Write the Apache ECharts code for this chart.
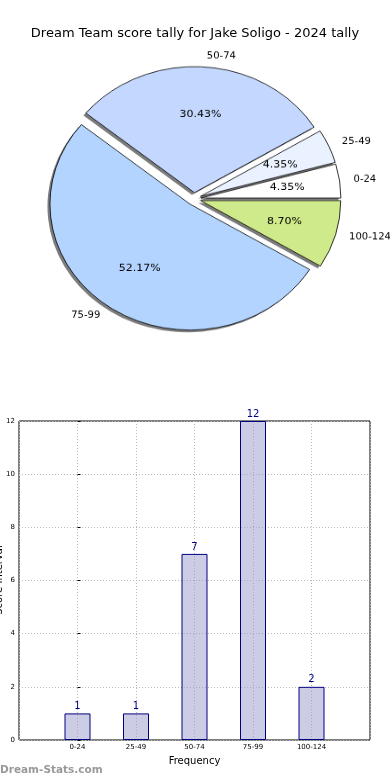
<!DOCTYPE html>
<html>
<head>
<meta charset="utf-8">
<script src="https://cdn.jsdelivr.net/npm/echarts@6/dist/echarts.min.js"></script>
<style>
html,body{margin:0;padding:0;background:#fff;}
#main{position:absolute;left:0;top:0;width:390px;height:780px;}
#pie{position:absolute;left:0;top:0;width:390px;height:420px;transform:scaleY(0.9);transform-origin:0 0;}
</style>
</head>
<body>
<div id="main"></div>
<div id="pie"></div>
<script>
const titleText = 'Dream Team score tally for Jake Soligo - 2024 tally';
const categories = ['0-24', '25-49', '50-74', '75-99', '100-124'];
const counts = [1, 1, 7, 12, 2];
const pieColors = ['#ffffff', '#eaf2ff', '#c4d8ff', '#b3d4ff', '#cfea8a'];
const yTicks = [0, 2, 4, 6, 8, 10, 12];
const xAxisName = 'Frequency';
const yAxisName = 'Score Interval';
const watermark = 'Dream-Stats.com';

const FONT = 'DejaVu Sans';
const total = counts.reduce((a, b) => a + b, 0);

// ---------- main chart: title + bar ----------
const main = echarts.init(document.getElementById('main'), null, {renderer: 'canvas'});
main.setOption({
  animation: false,
  backgroundColor: '#fff',
  title: {
    text: titleText, left: 'center', top: 22,
    textStyle: {fontFamily: FONT, fontSize: 13, fontWeight: 'normal', color: '#000'}
  },
  graphic: [{
    type: 'text', left: 0, top: 765,
    style: {text: watermark, fontFamily: FONT, fontSize: 10.5, fontWeight: 'bold', fill: '#999999'}
  }, {
    type: 'text', x: -1, y: 580, rotation: Math.PI / 2,
    style: {text: yAxisName, fontFamily: FONT, fontSize: 10, fill: '#000', align: 'center', verticalAlign: 'middle'}
  }],
  grid: {left: 19, top: 421, width: 351, height: 319, show: true, borderColor: '#000', borderWidth: 1,
         backgroundColor: 'transparent', outerBoundsMode: 'none', containLabel: false},
  xAxis: {
    type: 'value', min: -1, max: categories.length, interval: 1,
    name: xAxisName, nameLocation: 'middle', nameGap: 16,
    nameTextStyle: {fontFamily: FONT, fontSize: 10, color: '#000'},
    axisLine: {show: false},
    axisTick: {show: false},
    axisLabel: {
      fontFamily: FONT, fontSize: 7, color: '#000', margin: 4,
      formatter: v => (categories[v] !== undefined ? categories[v] : '')
    },
    splitLine: {show: true, lineStyle: {color: '#b8b8b8', type: [1, 2], width: 1}}
  },
  yAxis: {
    type: 'value', min: yTicks[0], max: yTicks[yTicks.length - 1], interval: yTicks[1] - yTicks[0],
    axisLine: {show: false},
    axisTick: {show: true, inside: true, length: 3, lineStyle: {color: '#000'}},
    axisLabel: {fontFamily: FONT, fontSize: 7, color: '#000', margin: 4},
    splitLine: {show: true, lineStyle: {color: '#b8b8b8', type: [1, 2], width: 1}}
  },
  series: [{
    type: 'bar',
    data: counts.map((v, i) => [i, v]),
    barWidth: 26,
    itemStyle: {color: 'rgba(153,153,204,0.5)', borderColor: '#000080', borderWidth: 1},
    label: {show: true, position: 'top', distance: 2, fontFamily: FONT, fontSize: 10, color: '#000080'}
  }]
});

// ---------- pie chart (scaled vertically to match elliptical pie) ----------
const pie = echarts.init(document.getElementById('pie'), null, {renderer: 'canvas'});
const R = 140;
const center = [194, 221];
const common = {
  type: 'pie', center: center, startAngle: 0, clockwise: false,
  selectedMode: 'multiple', selectedOffset: 7, avoidLabelOverlap: false,
  silent: true, emphasis: {disabled: true}
};
pie.setOption({
  animation: false,
  series: [
    // filled wedges with drop shadow
    Object.assign({}, common, {
      radius: [0, R],
      data: categories.map((c, i) => ({name: c, value: counts[i], selected: true, itemStyle: {color: pieColors[i]}})),
      itemStyle: {borderWidth: 0, shadowColor: 'rgba(80,80,80,0.75)', shadowBlur: 0, shadowOffsetX: -2.5, shadowOffsetY: 2.5},
      label: {show: false}, labelLine: {show: false}
    }),
    // outlines + category labels
    Object.assign({}, common, {
      radius: [0, R],
      data: categories.map((c, i) => ({name: c, value: counts[i], selected: true})),
      itemStyle: {color: 'rgba(0,0,0,0)', borderColor: '#000', borderWidth: 0.8},
      label: {show: true, position: 'outside', fontFamily: FONT, fontSize: 10, color: '#000', distanceToLabelLine: 2},
      labelLine: {show: false, length: 12, length2: 0}
    }),
    // percentage labels at 0.6 R
    Object.assign({}, common, {
      radius: [0, R * 1.2],
      data: categories.map((c, i) => ({name: c, value: counts[i], selected: true})),
      itemStyle: {color: 'rgba(0,0,0,0)', borderWidth: 0},
      label: {
        show: true, position: 'inside', fontFamily: FONT, fontSize: 11, color: '#000',
        formatter: p => (p.value / total * 100).toFixed(2) + '%'
      },
      labelLine: {show: false}
    })
  ]
});
</script>
</body>
</html>
